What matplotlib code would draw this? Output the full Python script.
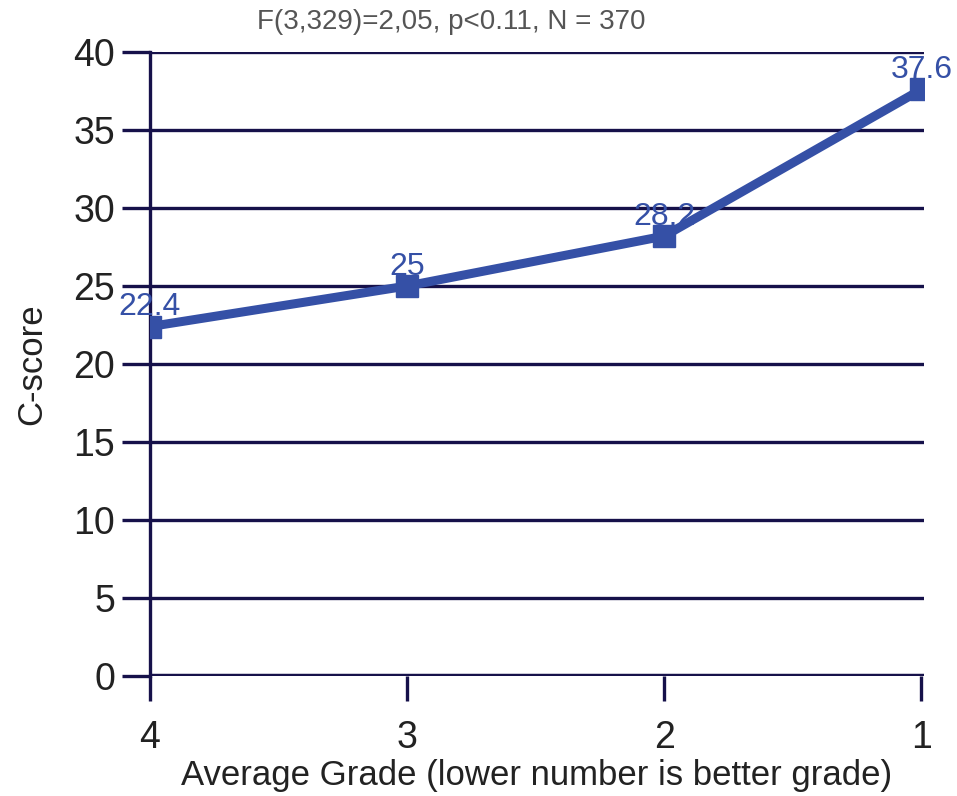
import matplotlib.pyplot as plt

# Data
grades = [4, 3, 2, 1]
c_scores = [22.4, 25, 28.2, 37.6]
value_labels = ["22.4", "25", "28.2", "37.6"]
y_ticks = [0, 5, 10, 15, 20, 25, 30, 35, 40]

navy = "#16114a"
blue = "#3550a6"
plt.rcParams['font.family'] = ['Liberation Sans', 'DejaVu Sans']

fig = plt.figure(figsize=(9.57, 7.96), dpi=100)
ax = fig.add_axes([150 / 957, 1 - 676 / 796, (924 - 150) / 957, (676 - 52) / 796])

# horizontal grid lines
for y in y_ticks:
    ax.axhline(y, color=navy, lw=2.4 if y else 3.2, zorder=1)

ax.plot(grades, c_scores, color=blue, lw=6.5, marker='s', markersize=16,
        solid_capstyle='butt', zorder=3)

for x, y, lab in zip(grades, c_scores, value_labels):
    ax.annotate(lab, (x, y), xytext=(0, 14), textcoords='offset points',
                ha='center', va='center', color=blue, fontsize=23, zorder=4)

ax.set_xlim(4, 0.99)
ax.set_ylim(0, 40)
ax.set_xticks(grades)
ax.set_yticks(y_ticks)

for side in ['top', 'right', 'bottom']:
    ax.spines[side].set_visible(False)
ax.spines['left'].set_color(navy)
ax.spines['left'].set_linewidth(2.4)
ax.spines['left'].set_zorder(2)

ax.tick_params(axis='y', length=20, width=2.4, color=navy, pad=5,
               labelsize=27, labelcolor='#222222')
ax.tick_params(axis='x', length=18, width=2.4, color=navy, pad=14,
               labelsize=27, labelcolor='#222222')

ax.set_ylabel('C-score', fontsize=25, color='#222222', labelpad=18)
ax.set_xlabel('Average Grade (lower number is better grade)', fontsize=25,
              color='#222222', labelpad=2)

fig.text(451 / 957, 1 - 22 / 796, 'F(3,329)=2,05, p<0.11, N = 370',
         ha='center', va='center', fontsize=20, color='#555555')

fig.savefig('out.png', dpi=100)
